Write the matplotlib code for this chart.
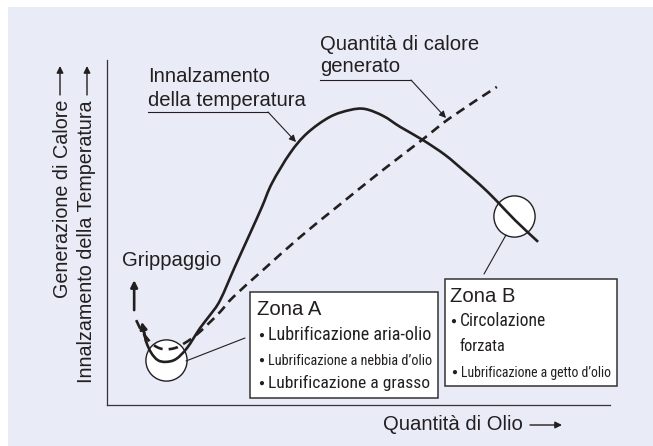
import matplotlib
matplotlib.use("Agg")
import matplotlib.pyplot as plt
from matplotlib import font_manager
from matplotlib.patches import Rectangle, PathPatch
from matplotlib.path import Path
import numpy as np

# ---- data (arbitrary units, x = oil quantity, y = heat / temperature) ----
temp_x = [7.2, 7.8, 8.8, 10.1, 11.7, 13.7, 15.9, 18.5, 20.5, 22.5, 25.5, 28.4, 30.8,
          32.8, 36.4, 39.8, 44.3, 48.3, 51.3, 54.9, 58.3, 62.8, 67.2, 70.8,
          74.2, 77.3, 81.1, 85.7]
temp_y = [22.3, 18.3, 15.1, 13.0, 12.5, 13.3, 16.5, 22.3, 26.1, 30.4, 40.3, 49.6, 57.4,
          64.3, 73.0, 78.8, 83.5, 85.5, 85.8, 83.8, 80.6, 76.8, 72.5, 68.1,
          63.8, 59.4, 53.6, 47.3]

heat_x = [5.8, 7.0, 9.0, 11.1, 13.5, 15.5, 17.5, 19.9, 22.5, 25.1, 31.0, 38.4,
          45.7, 54.3, 62.6, 68.2, 77.5]
heat_y = [24.6, 21.2, 17.7, 16.2, 16.5, 18.0, 20.0, 23.2, 27.0, 31.3, 39.1, 48.7,
          57.4, 67.5, 76.8, 83.2, 92.2]

seize_x = 5.4
seize_y = [27.5, 36.2]

zone_a_title = "Zona A"
zone_a_items = ["Lubrificazione aria-olio",
                "Lubrificazione a nebbia d\u2019olio",
                "Lubrificazione a grasso"]
zone_b_title = "Zona B"
zone_b_items = ["Circolazione", "forzata", "Lubrificazione a getto d\u2019olio"]

W, H = 653, 446
ink = "#231f20"
panel = "#e9ebf7"

def has_font(name):
    try:
        font_manager.findfont(font_manager.FontProperties(family=name),
                              fallback_to_default=False)
        return True
    except Exception:
        return False

main_font = "Liberation Sans" if has_font("Liberation Sans") else "DejaVu Sans"
narrow_font = main_font
for cand in ["Liberation Sans Narrow", "DejaVu Sans Condensed", "Roboto Condensed"]:
    if has_font(cand):
        narrow_font = cand
        break

plt.rcParams["font.family"] = [main_font, "DejaVu Sans"]


def smooth_path(xs, ys):
    # Catmull-Rom spline through the points, drawn as cubic Bezier pieces
    p = np.column_stack([xs, ys]).astype(float)
    p = np.vstack([p[0], p, p[-1]])
    verts = [p[1]]
    codes = [Path.MOVETO]
    for i in range(1, len(p) - 2):
        c1 = p[i] + (p[i + 1] - p[i - 1]) / 6
        c2 = p[i + 1] - (p[i + 2] - p[i]) / 6
        verts += [c1, c2, p[i + 1]]
        codes += [Path.CURVE4] * 3
    return Path(verts, codes)


fig = plt.figure(figsize=(W / 100, H / 100), dpi=100, facecolor="white")
fig.patches.append(Rectangle((8 / W, 0), 1, (H - 7) / H, transform=fig.transFigure,
                             facecolor=panel, edgecolor="none", zorder=-5))

# axes box: x 107..610 px, y 60..405 px (from top)
ax = fig.add_axes([107 / W, (H - 405) / H, 503 / W, 345 / H])
ax.set_xlim(0, 100)
ax.set_ylim(0, 100)
ax.patch.set_alpha(0)
for s in ["top", "right"]:
    ax.spines[s].set_visible(False)
for s in ["left", "bottom"]:
    ax.spines[s].set_color("#333333")
    ax.spines[s].set_linewidth(0.9)
ax.set_xticks([])
ax.set_yticks([])

def fp(x, y):
    # figure pixel position measured from the top-left corner
    return (x, H - y)

# highlight circles
ax.scatter([11.7, 80.9], [13.0, 54.8], s=880, facecolor="white",
           edgecolor=ink, linewidth=1.0, zorder=2)

# curves
ax.add_patch(PathPatch(smooth_path(temp_x, temp_y), fill=False, edgecolor=ink,
                       lw=1.9, capstyle="butt", joinstyle="round", zorder=3))
ax.annotate("", xy=(temp_x[0] - 0.3, temp_y[0] + 1.8), xytext=(temp_x[1], temp_y[1]),
            arrowprops=dict(arrowstyle="-|>", color=ink, lw=1.9,
                            mutation_scale=10, shrinkA=0, shrinkB=0), zorder=3)
ax.add_patch(PathPatch(smooth_path(heat_x, heat_y), fill=False, edgecolor=ink,
                       lw=1.9, linestyle=(0, (3.6, 2.3)), capstyle="butt", zorder=3))
ax.annotate("", xy=(seize_x, seize_y[1]), xytext=(seize_x, seize_y[0]),
            arrowprops=dict(arrowstyle="-|>", color=ink, lw=1.9,
                            mutation_scale=10, shrinkA=0, shrinkB=0), zorder=3)

# leader lines to the circles
ax.annotate("", xy=fp(186, 361), xytext=fp(245, 338), xycoords="figure pixels",
            textcoords="figure pixels",
            arrowprops=dict(arrowstyle="-", color=ink, lw=0.8, shrinkA=0, shrinkB=0))
ax.annotate("", xy=fp(506, 235), xytext=fp(484, 274), xycoords="figure pixels",
            textcoords="figure pixels",
            arrowprops=dict(arrowstyle="-", color=ink, lw=0.8, shrinkA=0, shrinkB=0))

# curve labels with underline leaders
fs = 14.6
txt = dict(fontsize=fs, color=ink, ha="left", va="baseline")

def ftext(x, y, s, **kw):
    d = dict(txt)
    d.update(kw)
    return fig.text(x / W, (H - y) / H, s, **d)

ftext(148, 82, "Innalzamento")
ftext(148, 106, "della temperatura")
ftext(320, 50, "Quantit\u00e0 di calore")
ftext(320, 72, "generato")
ftext(122, 266, "Grippaggio")

for (x0, x1, y0), tip in [((148, 268, 112), (296, 142)), ((320, 411, 80), (446, 118))]:
    fig.lines.append(plt.Line2D([x0 / W, x1 / W], [(H - y0) / H] * 2,
                                transform=fig.transFigure, color=ink, lw=0.8))
    ax.annotate("", xy=fp(*tip), xytext=fp(x1, y0), xycoords="figure pixels",
                textcoords="figure pixels",
                arrowprops=dict(arrowstyle="-|>", color=ink, lw=0.8,
                                mutation_scale=10, shrinkA=0, shrinkB=0))

# axis titles with arrows
ftext(383, 430, "Quantit\u00e0 di Olio")
ax.annotate("", xy=fp(562, 425), xytext=fp(530, 425), xycoords="figure pixels",
            textcoords="figure pixels",
            arrowprops=dict(arrowstyle="-|>", color=ink, lw=1.0,
                            mutation_scale=10, shrinkA=0, shrinkB=0))
for bx, by, s, ax_x in [(68, 298, "Generazione di Calore", 60),
                        (92, 383, "Innalzamento della Temperatura", 87)]:
    fig.text(bx / W, (H - by) / H, s, fontsize=fs - 0.4, color=ink, rotation=90,
             rotation_mode="anchor", ha="left", va="baseline")
    ax.annotate("", xy=fp(ax_x, 66), xytext=fp(ax_x, 95), xycoords="figure pixels",
                textcoords="figure pixels",
                arrowprops=dict(arrowstyle="-|>", color=ink, lw=1.0,
                                mutation_scale=10, shrinkA=0, shrinkB=0))

# zone boxes
for x0, y0, x1, y1 in [(250, 292, 438, 398), (445, 279, 617, 386)]:
    fig.patches.append(Rectangle((x0 / W, (H - y1) / H), (x1 - x0) / W, (y1 - y0) / H,
                                 transform=fig.transFigure, facecolor="white",
                                 edgecolor="#333333", lw=1.1, zorder=5))

ftext(257, 315, zone_a_title, zorder=6)
ftext(450, 302, zone_b_title, zorder=6)

narrow = []
# (x, baseline, text, target width, bullet)
rows = [(268, 340, zone_a_items[0], 164, True),
        (268, 365, zone_a_items[1], 165, True),
        (268, 388, zone_a_items[2], 161, True),
        (460, 326, zone_b_items[0], 86, True),
        (460, 351, zone_b_items[1], 46, False),
        (461, 377, zone_b_items[2], 151, True)]
for x, y, s, wpx, bullet in rows:
    t = ftext(x, y, s, family=[narrow_font, "DejaVu Sans"], zorder=6)
    narrow.append((t, wpx))
    if bullet:
        fig.text((x - 7) / W, (H - y + 5) / H, "\u25cf", fontsize=7, color=ink,
                 ha="center", va="center", zorder=6)

fig.canvas.draw()
r = fig.canvas.get_renderer()
for t, wpx in narrow:
    w = t.get_window_extent(r).width
    t.set_fontsize(t.get_fontsize() * wpx / w)

fig.savefig("out.png", dpi=100, facecolor=fig.get_facecolor())
